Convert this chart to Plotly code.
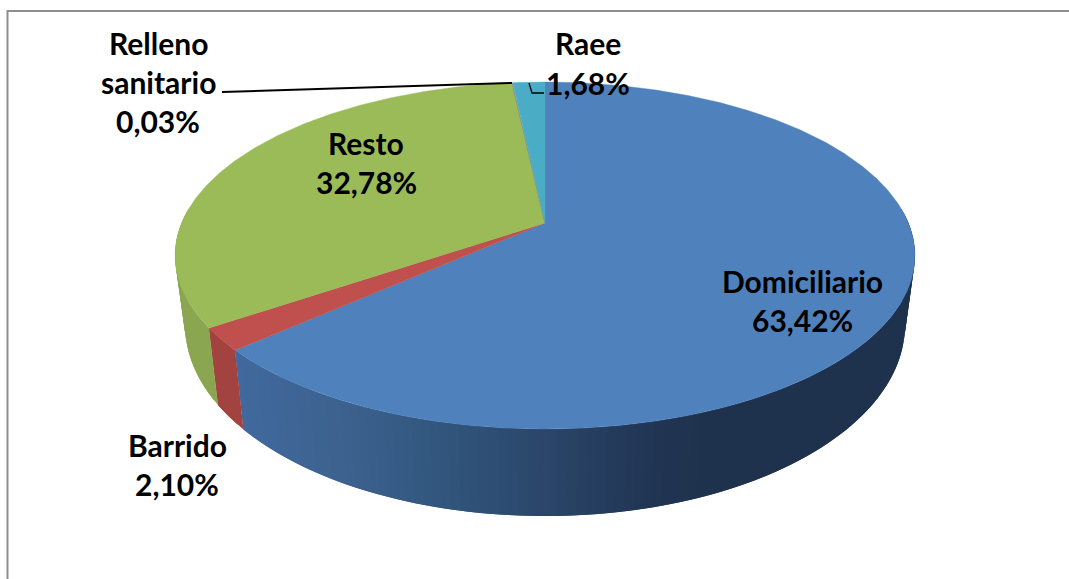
import math
import numpy as np
import plotly.graph_objects as go

categories = ["Domiciliario", "Barrido", "Resto", "Relleno sanitario", "Raee"]
values = [63.42, 2.10, 32.78, 0.03, 1.68]

top_colors = ["#4F81BD", "#C0504D", "#9BBB59", "#8064A2", "#4BACC6"]
side_colors = [None, "#A24340", "#8AA650", "#6C5589", "#3F92A8"]
# horizontal shading of the blue side: pixel x -> rgb
grad_x = [244, 350, 450, 550, 650, 700, 920]
grad_rgb = [(65, 105, 157), (60, 97, 142), (49, 85, 124), (42, 69, 105), (33, 53, 84), (31, 50, 77), (31, 50, 77)]

# Pie projection (layout geometry in page pixels)
CX, CY = 545.0, 223.0
PERSP, RX, RY = 0.1873, 363.4, 167.4
SHRINK = 0.973


def top_pt(theta):
    w = 1 + PERSP * np.cos(theta)
    return CX + RX * np.sin(theta) / w, CY - RY * np.cos(theta) / w


def base_pt(theta):
    x, y = top_pt(theta)
    return CX + (x - CX) * SHRINK, y + 77 + 0.1 * (y - 328)


def pct_angle(p):
    return np.asarray(p) / sum(values) * 2 * math.pi


fig = go.Figure()


def poly(xs, ys, color, lw=0.0):
    fig.add_trace(go.Scatter(
        x=list(xs), y=list(ys), mode="lines", fill="toself", fillcolor=color,
        line=dict(color=color, width=lw), hoverinfo="skip", showlegend=False))


edges = np.concatenate([[0], np.cumsum(values)])
angles = pct_angle(edges)
VIS_LO, VIS_HI = math.radians(85), math.radians(275)


def side_fill(i, xm):
    if side_colors[i] is not None:
        return side_colors[i]
    c = [int(round(np.interp(xm, grad_x, [g[k] for g in grad_rgb]))) for k in range(3)]
    return f"rgb({c[0]},{c[1]},{c[2]})"


# sides: painted as overlapping strips so no seams show; right-hand blue first
# is painted from the far right towards the cut, and each strip overlaps the next
for i in range(len(values)):
    a0, a1 = max(angles[i], VIS_LO), min(angles[i + 1], VIS_HI)
    if a1 <= a0:
        continue
    n = max(2, int((a1 - a0) * 45))
    th = np.linspace(a0, a1, n + 1)
    step = th[1] - th[0]
    for j in range(n):
        # each strip overlaps the one painted before it
        t = np.linspace(th[j], min(th[j + 1] + step, a1), 5)
        xt, yt = top_pt(t)
        xb, yb = base_pt(t)
        xm = float(base_pt(np.array([(th[j] + th[j + 1]) / 2]))[0][0])
        poly(np.r_[xt, xb[::-1]], np.r_[yt, yb[::-1]], side_fill(i, xm))

# top faces
for i in range(len(values)):
    n = max(3, int((angles[i + 1] - angles[i]) * 120))
    t = np.linspace(angles[i], angles[i + 1], n)
    x, y = top_pt(t)
    poly(np.r_[CX, x, CX], np.r_[CY, y, CY], top_colors[i], 0.4)

# leader lines
fig.add_trace(go.Scatter(x=[222, 512], y=[92, 83], mode="lines",
                         line=dict(color="black", width=2), hoverinfo="skip", showlegend=False))
fig.add_trace(go.Scatter(x=[529, 532, 544], y=[83, 93, 93], mode="lines",
                         line=dict(color="black", width=1.3), hoverinfo="skip", showlegend=False))


def fmt(v):
    return f"{v:.2f}".replace(".", ",") + "%"


label_lines = [
    (["Domiciliario", fmt(values[0])], 802, [281, 320]),
    (["Barrido", fmt(values[1])], 177, [445, 484]),
    (["Resto", fmt(values[2])], 366, [143, 182]),
    (["Relleno", "sanitario", fmt(values[3])], 158, [43, 82, 121]),
    (["Raee"], 588, [43]),
    ([fmt(values[4])], 588, [83]),
]
annotations = []
for lines, x, ys in label_lines:
    for s, y in zip(lines, ys):
        annotations.append(dict(
            x=x, y=y, xref="x", yref="y", text=s, showarrow=False,
            xanchor="center", yanchor="middle",
            font=dict(family="Lato", size=30, color="black", weight="bold")))

fig.update_layout(
    width=1069, height=579, margin=dict(l=0, r=0, t=0, b=0),
    paper_bgcolor="white", plot_bgcolor="white", showlegend=False,
    xaxis=dict(range=[0, 1069], visible=False, fixedrange=True),
    yaxis=dict(range=[579, 0], visible=False, fixedrange=True),
    annotations=annotations,
    shapes=[dict(type="rect", xref="x", yref="y", x0=7.5, y0=11, x1=1085, y1=600,
                 line=dict(color="#8E8E8E", width=2), fillcolor="rgba(0,0,0,0)", layer="below")],
)
fig.write_html("out.html", config={"displayModeBar": False},
               post_script="document.body.style.margin='0';")
